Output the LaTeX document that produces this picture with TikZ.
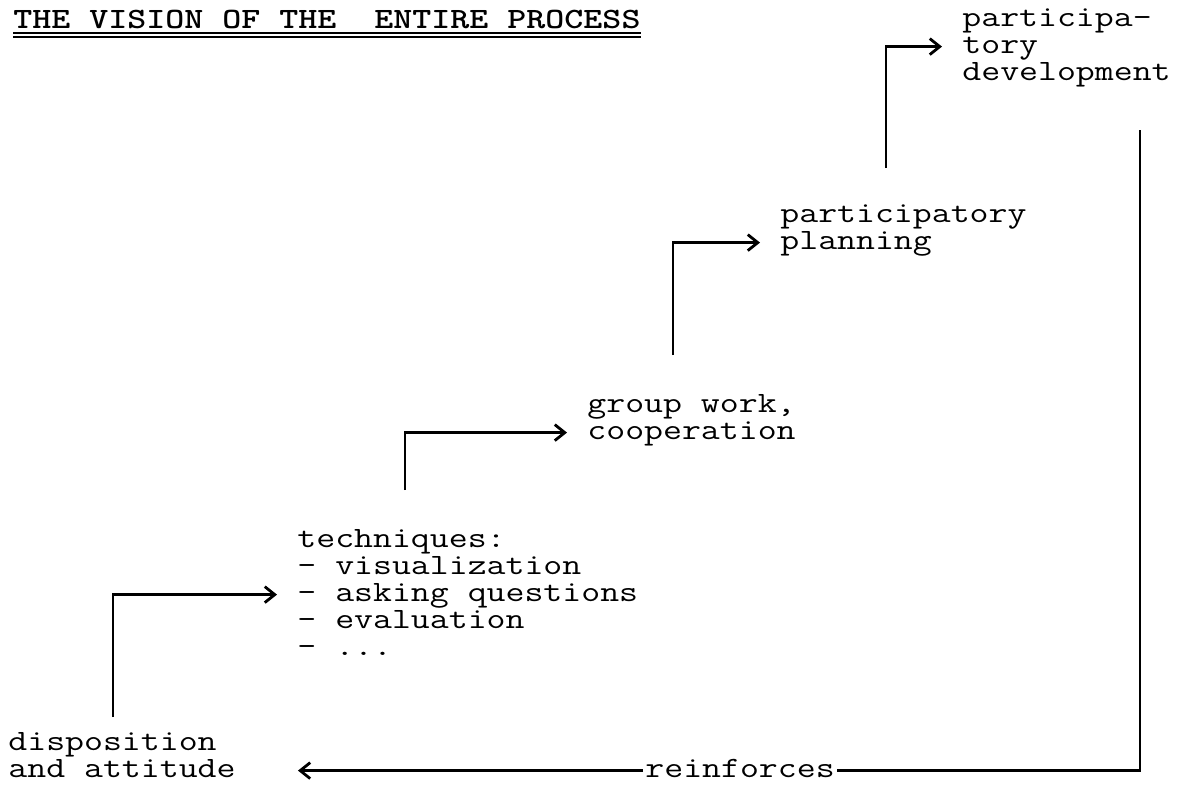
\documentclass[tikz,border=0pt]{standalone}
\usepackage{graphicx}
\usetikzlibrary{arrows.meta,calc}
\newcommand{\tw}[1]{\scalebox{1.246}[1]{#1}}
\newcommand{\twt}[1]{\scalebox{1.227}[1]{#1}}
\tikzset{
  txt/.style={font=\ttfamily\fontsize{14.75}{17}\selectfont, inner sep=0pt,
              text height=8pt, text depth=1.6pt, anchor=base west},
  conn/.style={line width=1.2pt},
  tipend/.style={-{Straight Barb[length=5pt,width=8pt,line width=1.4pt]}},
  arr/.style={conn, tipend, shorten >=10pt},
  uline/.style={line width=0.9pt}
}
\begin{document}
\begin{tikzpicture}[x=0.5pt,y=-0.5pt]
\useasboundingbox (0,0) rectangle (1193,803);
% title
\node[txt, font=\ttfamily\bfseries\fontsize{14.75}{17}\selectfont] (title) at (13,28) {\twt{THE VISION OF THE\ \ ENTIRE PROCESS}};
\draw[uline] ($(title.base west)+(0,5)$) -- ($(title.base east)+(0,5)$);
\draw[uline] ($(title.base west)+(0,9)$) -- ($(title.base east)+(0,9)$);
% text blocks
\node[txt] (pd1) at (962,26) {\tw{participa-}};
\node[txt] (pd2) at (962,53) {\tw{tory}};
\node[txt] (pd3) at (962,80) {\tw{development}};
\node[txt] (pp1) at (780,222) {\tw{participatory}};
\node[txt] (pp2) at (780,249) {\tw{planning}};
\node[txt] (gw1) at (587,412) {\tw{group work,}};
\node[txt] (gw2) at (587,439) {\tw{cooperation}};
\node[txt] (tq0) at (297,547) {\tw{techniques:}};
\node[txt] (tq1) at (297,574) {\tw{- visualization}};
\node[txt] (tq2) at (297,601) {\tw{- asking questions}};
\node[txt] (tq3) at (297,628) {\tw{- evaluation}};
\node[txt] (tq4) at (297,655) {\tw{- ...}};
\node[txt] (da1) at (8,750) {\tw{disposition}};
\node[txt] (da2) at (8,777) {\tw{and attitude}};
\node[txt] (rf) at (645,777) {\tw{reinforces}};
% connector start points
\coordinate (s1) at (113,717);
\coordinate (s2) at (405,490);
\coordinate (s3) at (673,355);
\coordinate (s4) at (886,168);
\coordinate (s5) at (1140,130);
% connectors
\draw[arr] (s1) |- (tq2.west);
\draw[arr] (s2) |- (gw2.west);
\draw[arr] (s3) |- (pp2.west);
\draw[arr] (s4) |- (pd2.west);
\draw[conn] (s5) |- ($(rf.east)+(2,0)$);
\draw[conn, tipend, shorten >=31pt] ($(rf.west)+(-2,0)$) -- (da2.east);
\end{tikzpicture}
\end{document}
